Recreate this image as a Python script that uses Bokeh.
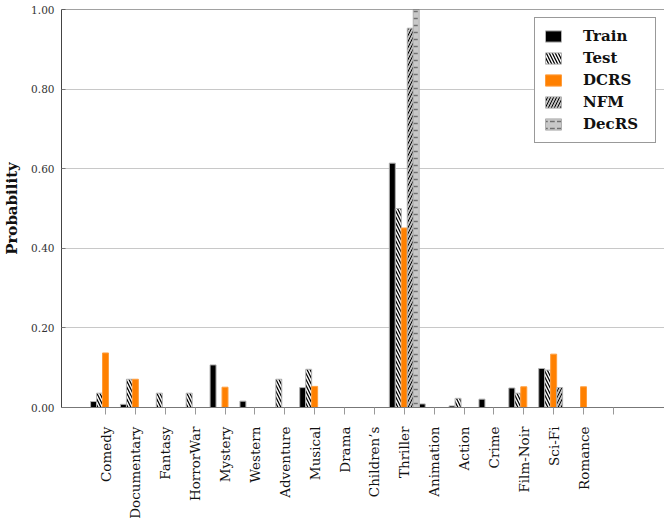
from bokeh.plotting import figure
from bokeh.models import (Range1d, FixedTicker, PrintfTickFormatter, Legend,
                          LegendItem, Span, ColumnDataSource)
from bokeh.transform import dodge
from bokeh.embed import file_html
from bokeh.resources import INLINE

genres = ["Comedy", "Documentary", "Fantasy", "HorrorWar", "Mystery", "Western",
          "Adventure", "Musical", "Drama", "Children\u2019s", "Thriller", "Animation",
          "Action", "Crime", "Film-Noir", "Sci-Fi", "Romance", ""]

train = [0.015, 0.008, 0.0, 0.0, 0.107, 0.016, 0.0, 0.050, 0.0, 0.0, 0.614, 0.009,
         0.004, 0.021, 0.049, 0.098, 0.0, 0.0]
test = [0.036, 0.071, 0.036, 0.036, 0.0, 0.0, 0.071, 0.096, 0.0, 0.0, 0.500, 0.0,
        0.023, 0.0, 0.036, 0.094, 0.0, 0.0]
dcrs = [0.137, 0.071, 0.0, 0.0, 0.051, 0.0, 0.0, 0.053, 0.0, 0.0, 0.451, 0.0,
        0.0, 0.0, 0.052, 0.134, 0.052, 0.0]
nfm = [0.0, 0.0, 0.0, 0.0, 0.0, 0.0, 0.0, 0.0, 0.0, 0.0, 0.953, 0.0,
       0.0, 0.0, 0.0, 0.050, 0.0, 0.0]
decrs = [0.0, 0.0, 0.0, 0.0, 0.0, 0.0, 0.0, 0.0, 0.0, 0.0, 1.000, 0.0,
         0.0, 0.0, 0.0, 0.0, 0.0, 0.0]

y_ticks = [0.0, 0.2, 0.4, 0.6, 0.8, 1.0]

src = ColumnDataSource(dict(x=list(range(len(genres))), train=train, test=test,
                            dcrs=dcrs, nfm=nfm, decrs=decrs))

p = figure(width=664, height=526, output_backend="svg", toolbar_location=None,
           x_range=Range1d(-1.473, 18.71), y_range=Range1d(0, 1),
           min_border_left=61, min_border_right=0, min_border_top=9,
           min_border_bottom=119)
p.outline_line_color = None
p.background_fill_color = "white"
p.border_fill_color = "white"

SERIF = "DejaVu Serif"

series = [
    ("train", "Train", -0.4, dict(fill_color="black", line_color="#b0b0b0")),
    ("test", "Test", -0.2, dict(fill_color="white", hatch_pattern="\\", hatch_color="black",
                                hatch_scale=6, hatch_weight=1.3, line_color="#b0b0b0")),
    ("dcrs", "DCRS", 0.0, dict(fill_color="#ff8000", line_color="#ff9d3c")),
    ("nfm", "NFM", 0.2, dict(fill_color="#c0c0c0", hatch_pattern="/", hatch_color="black",
                             hatch_scale=6, hatch_weight=1, line_color="#b0b0b0")),
    ("decrs", "DecRS", 0.4, dict(fill_color="#c8c8c8", hatch_pattern='"', hatch_color="#707070",
                                 hatch_scale=7, hatch_weight=1.5, line_color="#b0b0b0")),
]

items = []
for field, label, off, style in series:
    r = p.vbar(x=dodge("x", off), top=field, bottom=0, width=0.2, source=src,
               line_width=1, **style)
    items.append(LegendItem(label=label, renderers=[r]))

# grid
p.xgrid.grid_line_color = None
p.ygrid.ticker = FixedTicker(ticks=y_ticks)
p.ygrid.grid_line_color = "#c8c8c8"

# x axis
p.xaxis.ticker = FixedTicker(ticks=list(range(len(genres))))
p.xaxis.major_label_overrides = {i: g for i, g in enumerate(genres)}
p.xaxis.major_label_orientation = 1.5707963
p.xaxis.major_label_text_font = SERIF
p.xaxis.major_label_text_font_size = "13.5px"
p.xaxis.major_label_text_color = "#111111"
p.xaxis.major_label_standoff = 12
p.xaxis.major_tick_in = 0
p.xaxis.major_tick_out = 7
p.xaxis.major_tick_line_color = "#999999"
p.xaxis.minor_tick_line_color = None
p.xaxis.axis_line_color = "#777777"

# y axis
p.yaxis.ticker = FixedTicker(ticks=y_ticks)
p.yaxis.formatter = PrintfTickFormatter(format="%.2f")
p.yaxis.major_label_text_font = "DejaVu Serif"
p.yaxis.major_label_text_font_size = "10.5px"
p.yaxis.major_label_text_color = "#333333"
p.yaxis.major_label_standoff = 7
p.yaxis.major_tick_in = 4
p.yaxis.major_tick_out = 0
p.yaxis.major_tick_line_color = "#777777"
p.yaxis.minor_tick_line_color = None
p.yaxis.axis_line_color = "#444444"
p.yaxis.axis_label = "Probability"
p.yaxis.axis_label_text_font = SERIF
p.yaxis.axis_label_text_font_style = "bold"
p.yaxis.axis_label_text_font_size = "15px"
p.yaxis.axis_label_text_color = "#111111"
p.yaxis.axis_label_standoff = 7

# top frame line
p.add_layout(Span(location=1.0, dimension="width", line_color="#444444", line_width=1))

legend = Legend(items=items, location="top_right", margin=8, padding=8,
                spacing=2, glyph_width=20, glyph_height=14, label_height=20,
                label_width=64, label_standoff=20,
                label_text_font=SERIF, label_text_font_style="bold",
                label_text_font_size="15px", label_text_color="#111111",
                border_line_color="#333333", border_line_width=1,
                background_fill_color="white", background_fill_alpha=1.0)
p.add_layout(legend)

open("out.html", "w").write(file_html(p, INLINE))
